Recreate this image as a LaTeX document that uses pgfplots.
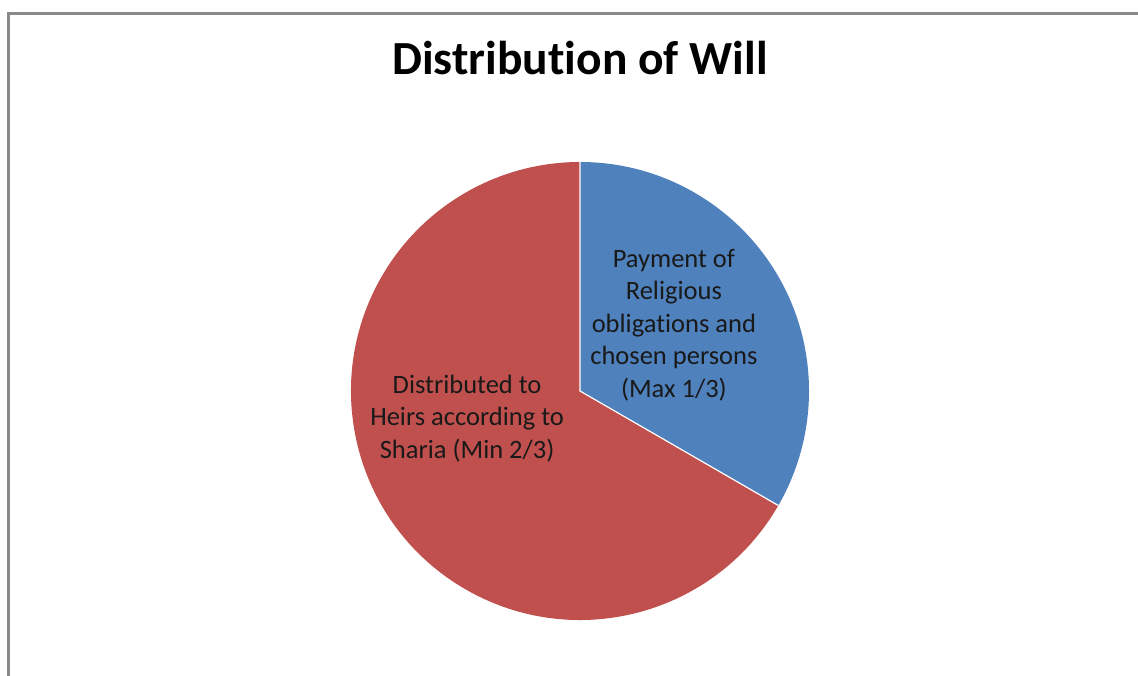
\documentclass[border=0pt]{standalone}
\usepackage{fontspec}
\setmainfont{Carlito}[Ligatures=NoCommon]
\usepackage{pgfplots}
\pgfplotsset{compat=1.18}
\definecolor{sliceblue}{HTML}{4F81BD}
\definecolor{slicered}{HTML}{C0504D}
\definecolor{framegray}{HTML}{898989}

% shares of the pie, in percent
\def\shareA{33.3333}
\def\shareB{66.6667}

\begin{document}
\begin{tikzpicture}
\useasboundingbox (0,0) rectangle (1138pt,676pt);
\draw[framegray, line width=2.5pt] (8.5pt,-5pt) -- (8.5pt,662.5pt) -- (1142pt,662.5pt);
\node[font=\fontsize{47.5}{56}\selectfont\bfseries, anchor=base, inner sep=0pt] at (580pt,601pt) {Distribution of Will};
\pgfmathsetmacro{\angA}{90-3.6*\shareA}
\pgfmathsetmacro{\xA}{cos(\angA)}
\pgfmathsetmacro{\yA}{sin(\angA)}
\begin{axis}[
  at={(580pt,285pt)}, anchor=center,
  scale only axis, width=458pt, height=458pt,
  xmin=-1, xmax=1, ymin=-1, ymax=1,
  hide axis, clip=false,
]
\addplot[draw=none, fill=sliceblue] coordinates {(0,0) (0,1)}
  arc[start angle=90, end angle=\angA, radius=229pt] -- cycle;
\addplot[draw=none, fill=slicered] coordinates {(0,0) (\xA,\yA)}
  arc[start angle=\angA, end angle=-270, radius=229pt] -- cycle;
\addplot[white, line width=1.2pt] coordinates {(0,1) (0,0) (\xA,\yA)};
\node[align=center, font=\fontsize{26.5}{32.5}\selectfont, text=black!90]
  at (axis cs:0.41,0.288) {Payment of\\Religious\\obligations and\\chosen persons\\(Max 1/3)};
\node[align=center, font=\fontsize{26.5}{32.5}\selectfont, text=black!90]
  at (axis cs:-0.493,-0.12) {Distributed to\\Heirs according to\\Sharia (Min 2/3)};
\end{axis}
\end{tikzpicture}
\end{document}
